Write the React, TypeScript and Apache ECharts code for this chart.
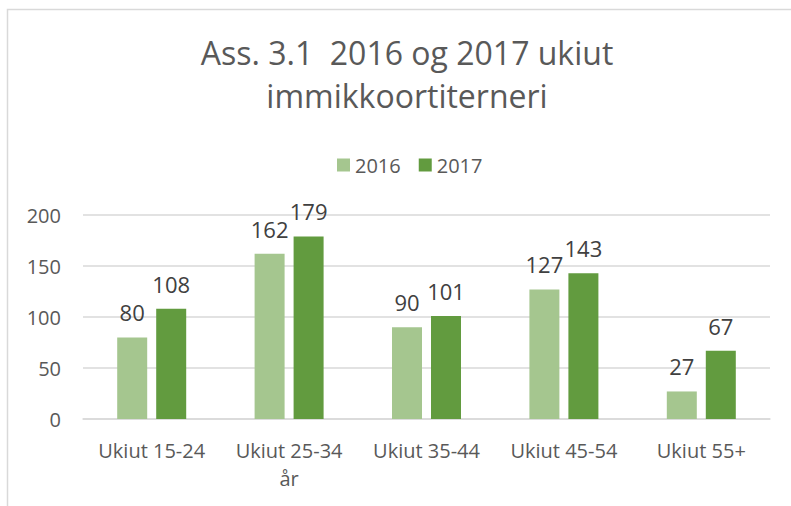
import React, { useEffect, useRef } from "react";
import * as echarts from "echarts";

const categories = ["Ukiut 15-24", "Ukiut 25-34 år", "Ukiut 35-44", "Ukiut 45-54", "Ukiut 55+"];
const series2016 = [80, 162, 90, 127, 27];
const series2017 = [108, 179, 101, 143, 67];
const seriesNames = ["2016", "2017"];
const titleText = "Ass. 3.1  2016 og 2017 ukiut\nimmikkoortiterneri";

const FONT = "'Open Sans', 'Noto Sans', sans-serif";

export default function App() {
  const ref = useRef<HTMLDivElement>(null);
  useEffect(() => {
    document.body.style.margin = "0";
    if (!ref.current) return;
    const chart = echarts.init(ref.current, undefined, { renderer: "svg" });
    const label = {
      show: true,
      position: "top",
      distance: 14,
      fontSize: 22,
      color: "#404040",
      fontFamily: FONT,
    };
    chart.setOption({
      animation: false,
      backgroundColor: "#ffffff",
      textStyle: { fontFamily: FONT },
      title: {
        text: titleText,
        left: 402,
        top: 26,
        textAlign: "center",
        textStyle: {
          fontSize: 32,
          lineHeight: 43,
          fontWeight: "normal",
          color: "#595959",
          fontFamily: FONT,
        },
      },
      legend: {
        left: 332,
        top: 150,
        itemWidth: 13,
        itemHeight: 13,
        itemGap: 18,
        icon: "rect",
        textStyle: { fontSize: 20, color: "#595959", fontFamily: FONT },
        data: seriesNames,
      },
      graphic: [
        {
          type: "rect",
          shape: { x: 7.5, y: 9.5, width: 820, height: 540 },
          style: { fill: "none", stroke: "#D9D9D9", lineWidth: 1.5 },
          silent: true,
        },
      ],
      grid: { left: 83, right: 21, top: 215, bottom: 87, containLabel: false },
      xAxis: {
        type: "category",
        data: categories,
        axisLine: { show: true, lineStyle: { color: "#D9D9D9", width: 1.5 } },
        axisTick: { show: false },
        axisLabel: {
          fontSize: 20,
          color: "#595959",
          margin: 17,
          lineHeight: 28,
          interval: 0,
          fontFamily: FONT,
          formatter: (v: string) => v.replace(" år", "\når"),
        },
      },
      yAxis: {
        type: "value",
        min: 0,
        max: 200,
        interval: 50,
        axisLine: { show: false },
        axisTick: { show: false },
        splitLine: { lineStyle: { color: "#D9D9D9", width: 1.5 } },
        axisLabel: { fontSize: 20, color: "#595959", margin: 22, fontFamily: FONT },
      },
      series: [
        {
          name: seriesNames[0],
          type: "bar",
          data: series2016,
          barWidth: 30,
          barGap: "30%",
          itemStyle: { color: "#A5C68F" },
          label,
        },
        {
          name: seriesNames[1],
          type: "bar",
          data: series2017,
          barWidth: 30,
          barGap: "30%",
          itemStyle: { color: "#629B3F" },
          label,
        },
      ],
    });
    return () => chart.dispose();
  }, []);
  return <div ref={ref} style={{ width: 791, height: 506 }} />;
}
